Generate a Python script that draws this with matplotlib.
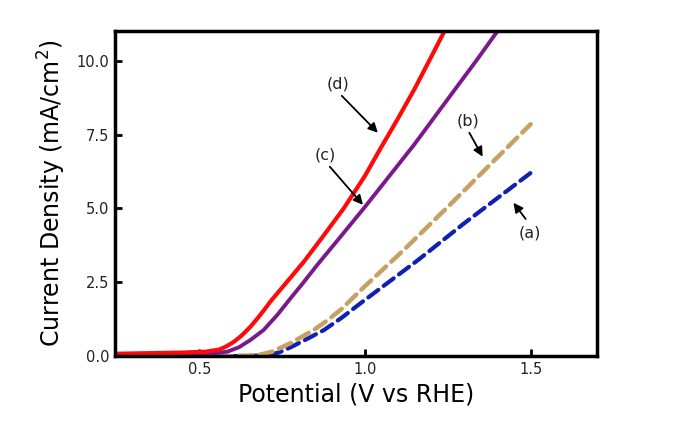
"""Polarization curves (a)-(d): current density vs potential."""
import matplotlib
matplotlib.use("Agg")
import matplotlib.pyplot as plt

plt.rcParams["font.family"] = ["DejaVu Sans"]

# (d) red, solid
v_d = [0.25, 0.35, 0.45, 0.52, 0.56, 0.58, 0.60, 0.62, 0.633, 0.655, 0.676,
       0.695, 0.715, 0.76, 0.816, 0.87, 0.936, 1.0, 1.048, 1.10, 1.15, 1.194, 1.24]
j_d = [0.08, 0.10, 0.12, 0.15, 0.22, 0.32, 0.45, 0.62, 0.75, 1.0, 1.28,
       1.55, 1.85, 2.45, 3.2, 4.0, 5.0, 6.1, 7.05, 8.05, 9.05, 10.0, 11.0]

# (c) purple, solid
v_c = [0.25, 0.45, 0.55, 0.585, 0.62, 0.655, 0.694, 0.736, 0.775, 0.815, 0.857,
       0.927, 1.0, 1.148, 1.26, 1.336, 1.40]
j_c = [0.05, 0.08, 0.10, 0.15, 0.30, 0.55, 0.88, 1.4, 1.95, 2.5, 3.1,
       4.05, 5.05, 7.15, 8.85, 10.0, 11.0]

# (b) tan, dashed
v_b = [0.25, 0.45, 0.60, 0.676, 0.72, 0.776, 0.845, 0.888, 0.93, 0.988, 1.118,
       1.25, 1.433, 1.5]
j_b = [0.0, 0.0, 0.0, 0.03, 0.15, 0.44, 0.88, 1.22, 1.6, 2.24, 3.6,
       5.05, 7.1, 7.85]

# (a) blue, dashed
v_a = [0.25, 0.60, 0.70, 0.74, 0.776, 0.82, 0.876, 0.93, 0.988, 1.16, 1.30, 1.5]
j_a = [0.0, 0.0, 0.02, 0.12, 0.30, 0.55, 0.88, 1.3, 1.8, 3.25, 4.5, 6.2]

x_ticks = [0.5, 1.0, 1.5]
y_ticks = [0.0, 2.5, 5.0, 7.5, 10.0]

# label text, text position, arrow tail, arrow head
notes = [
    ("(d)", (0.918, 9.22), (0.93, 8.81), (1.039, 7.56)),
    ("(c)", (0.879, 6.81), (0.894, 6.41), (0.994, 5.12)),
    ("(b)", (1.312, 7.97), (1.315, 7.56), (1.355, 6.75)),
    ("(a)", (1.497, 4.17), (1.485, 4.64), (1.448, 5.19)),
]

fig = plt.figure(figsize=(6.83, 4.38), dpi=100)
ax = fig.add_axes([0.168, 0.187, 0.706, 0.742])

ax.plot(v_a, j_a, color="#1020b0", lw=3, ls=(0, (3, 1.6)), dash_capstyle="round",
        solid_capstyle="round")
ax.plot(v_b, j_b, color="#c8a064", lw=3.2, ls=(0, (3, 1.6)), dash_capstyle="round")
ax.plot(v_c, j_c, color="#7a1a8a", lw=2.8)
ax.plot(v_d, j_d, color="#ff0a0a", lw=3)

for label, txt, tail, head in notes:
    ax.text(*txt, label, ha="center", va="center", fontsize=11.5, color="#222222")
    ax.annotate("", xy=head, xytext=tail,
                arrowprops=dict(arrowstyle="-|>", color="black", lw=1.3,
                                mutation_scale=14, shrinkA=0, shrinkB=0))

ax.set_xlim(0.245, 1.70)
ax.set_ylim(0, 11.0)
ax.set_xticks(x_ticks, [f"{t:.1f}" for t in x_ticks])
ax.set_yticks(y_ticks, [f"{t:.1f}" for t in y_ticks])
ax.tick_params(direction="in", length=5, width=2, labelsize=10.5, labelcolor="#222222", pad=4)
for s in ax.spines.values():
    s.set_linewidth(2.5)

ax.set_xlabel("Potential (V vs RHE)", fontsize=17, labelpad=4)
ax.set_ylabel("Current Density (mA/cm$^2$)", fontsize=17, labelpad=6)

fig.savefig("out.png", dpi=100)
